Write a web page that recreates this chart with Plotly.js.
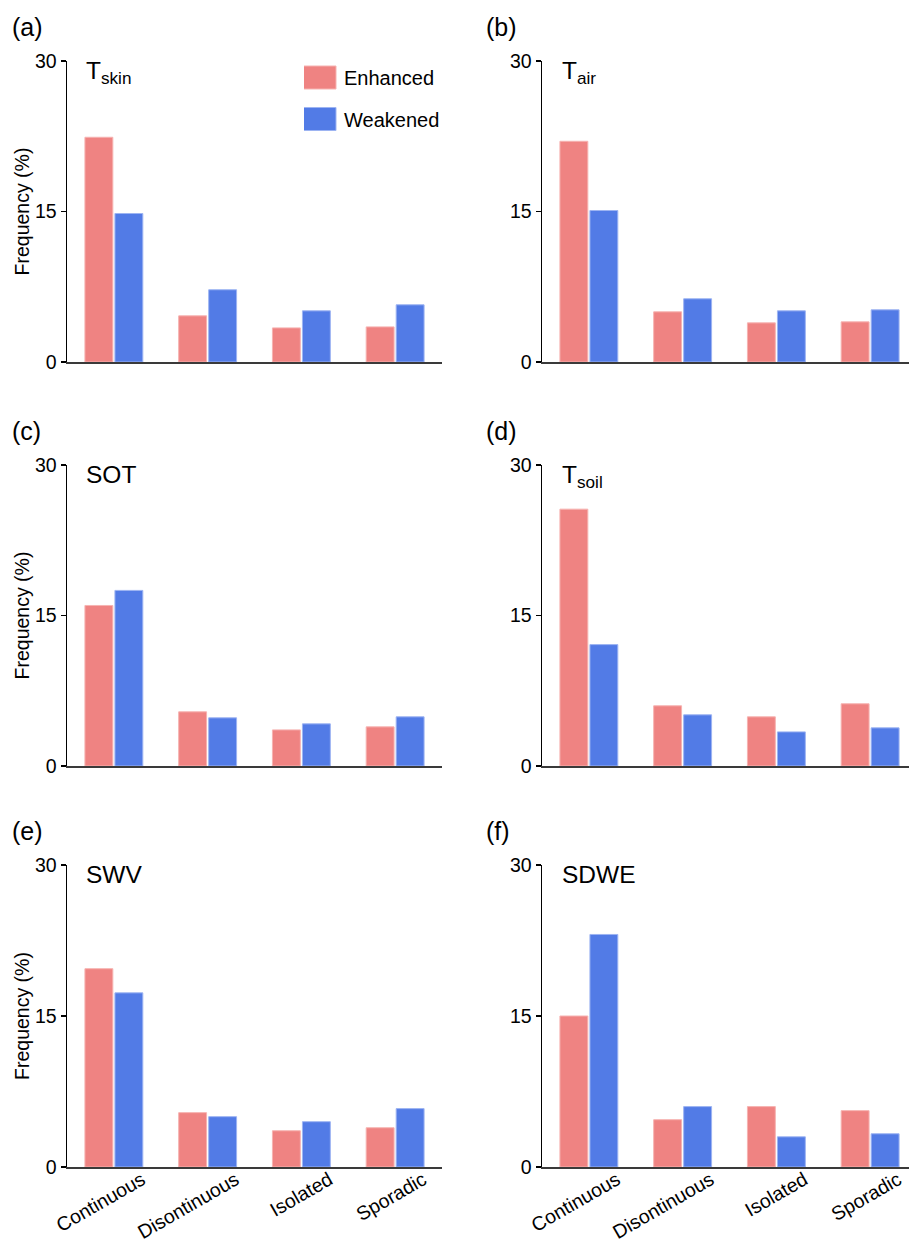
<!DOCTYPE html>
<html>
<head>
<meta charset="utf-8">
<script src="https://cdn.plot.ly/plotly-3.0.1.min.js"></script>
<style>html,body{margin:0;padding:0;background:#fff;}#chart{width:909px;height:1243px;}</style>
</head>
<body>
<div id="chart"></div>
<script>
// ---- data ----
const categories = ['Continuous', 'Disontinuous', 'Isolated', 'Sporadic'];
const seriesNames = ['Enhanced', 'Weakened'];
const panelLetters = ['(a)', '(b)', '(c)', '(d)', '(e)', '(f)'];
const panelVars = ['T<sub>skin</sub>', 'T<sub>air</sub>', 'SOT', 'T<sub>soil</sub>', 'SWV', 'SDWE'];
const yTickVals = [0, 15, 30];
const yTitle = 'Frequency (%)';

const enhancedTskin = [22.4, 4.6, 3.4, 3.5];
const weakenedTskin = [14.8, 7.2, 5.1, 5.7];
const enhancedTair  = [22.0, 5.0, 3.9, 4.0];
const weakenedTair  = [15.1, 6.3, 5.1, 5.2];
const enhancedSOT   = [16.0, 5.4, 3.6, 3.9];
const weakenedSOT   = [17.5, 4.8, 4.2, 4.9];
const enhancedTsoil = [25.6, 6.0, 4.9, 6.2];
const weakenedTsoil = [12.1, 5.1, 3.4, 3.8];
const enhancedSWV   = [19.7, 5.4, 3.6, 3.9];
const weakenedSWV   = [17.3, 5.0, 4.5, 5.8];
const enhancedSDWE  = [15.0, 4.7, 6.0, 5.6];
const weakenedSDWE  = [23.1, 6.0, 3.0, 3.3];

const enhancedAll = [enhancedTskin, enhancedTair, enhancedSOT, enhancedTsoil, enhancedSWV, enhancedSDWE];
const weakenedAll = [weakenedTskin, weakenedTair, weakenedSOT, weakenedTsoil, weakenedSWV, weakenedSDWE];

// ---- styles / layout ----
const colEnh = '#EF8382', colWk = '#527BE6';
const lineEnh = '#F6B3B1', lineWk = '#9DB4F2';
const FONT = 'Liberation Sans, Arial, Helvetica, sans-serif';
const W = 909, H = 1243;
const colX = [[67, 442], [542, 909]];
const rowY = [[61, 362], [465, 766], [865, 1167]];

const traces = [];
const layout = {
  width: W, height: H,
  margin: {l: 0, r: 0, t: 0, b: 0},
  paper_bgcolor: '#fff', plot_bgcolor: '#fff',
  font: {family: FONT, size: 19, color: '#000'},
  barmode: 'group', bargap: 0.36, bargroupgap: 0.07,
  showlegend: true,
  legend: {x: 304/W, y: 1 - 58/H, xanchor: 'left', yanchor: 'top',
           font: {family: FONT, size: 20, color: '#000'}, bgcolor: 'rgba(0,0,0,0)',
           traceorder: 'grouped', tracegroupgap: 12.5, itemwidth: 30},
  annotations: [], shapes: []
};

for (let i = 0; i < 6; i++) {
  const r = Math.floor(i / 2), c = i % 2;
  const sfx = i === 0 ? '' : String(i + 1);
  const xa = 'x' + sfx, ya = 'y' + sfx;
  traces.push({type: 'bar', x: categories, y: enhancedAll[i], name: seriesNames[0],
    xaxis: xa, yaxis: ya, legendgroup: 'enh', showlegend: i === 0,
    marker: {color: colEnh, line: {color: lineEnh, width: 1}}, hoverinfo: 'x+y+name'});
  traces.push({type: 'bar', x: categories, y: weakenedAll[i], name: seriesNames[1],
    xaxis: xa, yaxis: ya, legendgroup: 'wk', showlegend: i === 0,
    marker: {color: colWk, line: {color: lineWk, width: 1}}, hoverinfo: 'x+y+name'});

  const [x0, x1] = colX[c];
  const [yt, yb] = rowY[r];
  const catW = 375 / 4;
  const xEnd = -0.5 + (x1 - x0) / catW;
  layout['xaxis' + sfx] = {
    domain: [x0 / W, x1 / W], anchor: ya, type: 'category',
    categoryorder: 'array', categoryarray: categories,
    range: [-0.5, xEnd], showgrid: false, zeroline: false,
    showline: true, linecolor: '#3a3a3a', linewidth: 2,
    ticks: '', showticklabels: r === 2, tickangle: -30, ticklabelshift: 28, ticklabelstandoff: -8,
    tickfont: {family: FONT, size: 19.5, color: '#000'}, fixedrange: true
  };
  const yax = {
    domain: [1 - yb / H, 1 - yt / H], anchor: xa,
    range: [0, 30], tickvals: yTickVals, ticktext: yTickVals.map(String),
    showgrid: false, zeroline: false, showline: true, linecolor: '#000', linewidth: 1.5,
    ticks: 'outside', ticklen: 5, tickwidth: 1.5, tickcolor: '#000',
    tickfont: {family: FONT, size: 19.5, color: '#000'}, fixedrange: true
  };
  if (c === 0) yax.title = {text: yTitle, font: {family: FONT, size: 19.5, color: '#000'}, standoff: 0};
  layout['yaxis' + sfx] = yax;

  // panel letter
  layout.annotations.push({text: panelLetters[i], xref: 'paper', yref: 'paper',
    x: (c === 0 ? 10 : 484) / W, y: 1 - (yt - 34) / H, xanchor: 'left', yanchor: 'middle',
    showarrow: false, font: {family: FONT, size: 25, color: '#000'}});
  // variable label
  layout.annotations.push({text: panelVars[i], xref: xa + ' domain', yref: ya + ' domain',
    x: (c === 0 ? 17 : 18) / (x1 - x0), y: 1, xanchor: 'left', yanchor: 'top', yshift: 6,
    showarrow: false, font: {family: FONT, size: 24.5, color: '#000'}});
}

Plotly.newPlot('chart', traces, layout, {staticPlot: true}).then(function () {
  // widen legend swatches to match the reference's boxes
  document.querySelectorAll('.legend .legendpoints path').forEach(function (p) {
    p.setAttribute('d', 'M-25,-11.5H12V11.5H-25Z');
  });
});
</script>
</body>
</html>
